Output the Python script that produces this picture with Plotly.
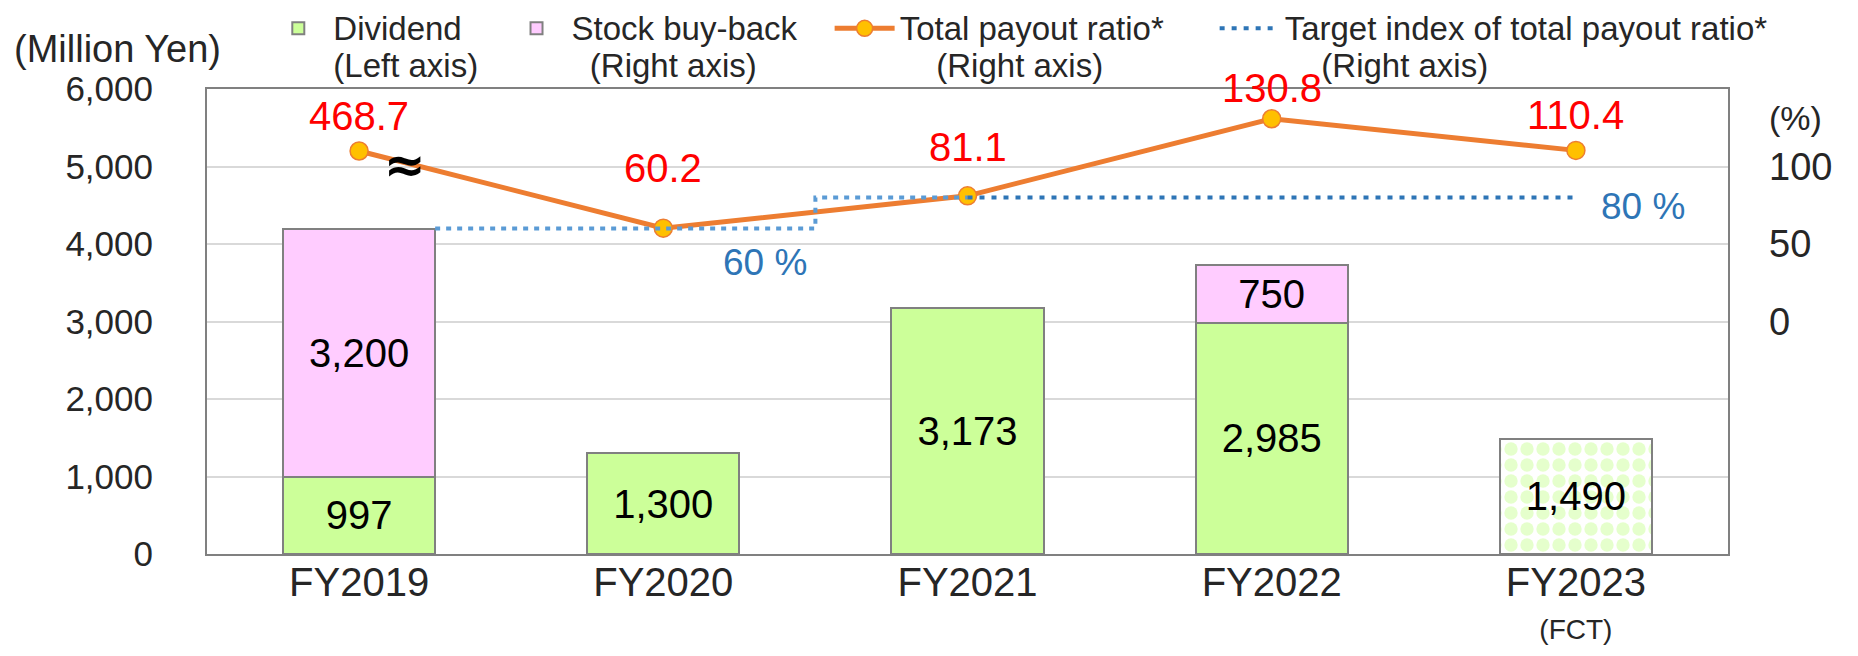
import plotly.graph_objects as go

years = ["FY2019", "FY2020", "FY2021", "FY2022", "FY2023"]
year_notes = ["", "", "", "", "(FCT)"]
dividend = [997, 1300, 3173, 2985, 1490]
buyback = [3200, 0, 0, 750, 0]
payout_ratio = [468.7, 60.2, 81.1, 130.8, 110.4]
# FY2019 sits on a broken axis (the ≈ mark), so it is drawn lower than its value
payout_drawn = [110, 60.2, 81.1, 130.8, 110.4]

# target index of total payout ratio: 60% up to mid FY2020/21, then 80%
target_old_x = [0.25, 1.5, 1.5, 2]
target_old = [60, 60, 80, 80]
target_new_x = [2, 4]
target_new = [80, 80]

xpos = list(range(len(years)))
FONT = "Liberation Sans, Arial, sans-serif"
GREEN = "#CCFF99"
PINK = "#FFCCFF"
EDGE = "#808080"
NB = "\u00a0"


def span(txt, size):
    return f"<span style='font-size:{size}px'>{txt}</span>"


def legend_name(first, second, indent=0, pad=0):
    return span(first + NB * pad, 33) + "<br>" + span(NB * indent + second, 33)


tick_text = []
for y, note in zip(years, year_notes):
    t = span(y, 40)
    if note:
        t += "<br>" + span(note, 28)
    tick_text.append(t)

fig = go.Figure()

fig.add_trace(go.Bar(
    x=xpos, y=dividend, width=0.5,
    name=legend_name("Dividend", "(Left axis)" + NB * 2),
    marker=dict(color=GREEN, line=dict(color=EDGE, width=2),
                pattern=dict(shape=["", "", "", "", "."], fgcolor=GREEN,
                             bgcolor="white", size=16, solidity=0.55)),
    text=[f"{v:,}" for v in dividend], textposition="inside",
    insidetextanchor="middle", textangle=0, constraintext="none",
    textfont=dict(size=40, color="black", family=FONT),
))
fig.add_trace(go.Bar(
    x=xpos, y=buyback, width=0.5,
    name=legend_name("Stock buy-back", "(Right axis)", indent=2, pad=3),
    marker=dict(color=PINK, line=dict(color=EDGE, width=2)),
    text=[f"{v:,}" if v else "" for v in buyback], textposition="inside",
    insidetextanchor="middle", textangle=0, constraintext="none",
    textfont=dict(size=40, color="black", family=FONT),
))
fig.add_trace(go.Scatter(
    x=xpos, y=payout_drawn, yaxis="y2", mode="lines+markers",
    name=legend_name("Total payout ratio*", "(Right axis)", indent=4, pad=5),
    line=dict(color="#ED7D31", width=5),
    marker=dict(size=18, color="#FFC000", line=dict(color="#ED7D31", width=1.5)),
))
fig.add_trace(go.Scatter(
    x=target_old_x, y=target_old, yaxis="y2", mode="lines", showlegend=False,
    line=dict(color="#5B9BD5", width=4, dash="5px,6px"),
))
fig.add_trace(go.Scatter(
    x=target_new_x, y=target_new, yaxis="y2", mode="lines",
    name=legend_name("Target index of total payout ratio*", "(Right axis)", indent=4),
    line=dict(color="#2E75B6", width=4, dash="5px,7px"),
))

# red value labels above the payout markers
label_lift = [35, 60, 49, 31, 35]
for x, yv, v, lift in zip(xpos, payout_drawn, payout_ratio, label_lift):
    fig.add_annotation(x=x, y=yv, yref="y2", text=f"{v}", showarrow=False,
                       yshift=lift, font=dict(size=40, color="#FF0000", family=FONT))

fig.add_annotation(x=0.15, y=101, yref="y2", text="<b>≈</b>", showarrow=False,
                   font=dict(size=50, color="black", family="DejaVu Sans"))
fig.add_annotation(x=1.335, y=38, yref="y2", text="60 %", showarrow=False,
                   font=dict(size=37, color="#2E75B6", family=FONT))
fig.add_annotation(x=4.22, y=74, yref="y2", text="80 %", showarrow=False,
                   font=dict(size=37, color="#2E75B6", family=FONT))
fig.add_annotation(x=-0.128, y=1.086, xref="paper", yref="paper",
                   xanchor="left", yanchor="middle",
                   text="(Million Yen)", showarrow=False,
                   font=dict(size=38, color="#262626", family=FONT))
fig.add_annotation(x=1.0256, y=0.938, xref="paper", yref="paper",
                   xanchor="left", yanchor="middle",
                   text="(%)", showarrow=False,
                   font=dict(size=34, color="#262626", family=FONT))

# the page adds an 8px body margin, so the figure is 8px smaller each way
fig.update_layout(
    width=1850, height=648,
    margin=dict(l=199, r=130, t=81, b=102, autoexpand=False),
    barmode="stack",
    plot_bgcolor="white", paper_bgcolor="white",
    font=dict(family=FONT, color="#262626"),
    showlegend=True,
    legend=dict(orientation="h", xref="container", yref="paper",
                x=0.138, y=1.185, xanchor="left", yanchor="top",
                bgcolor="rgba(0,0,0,0)",
                font=dict(size=29, family=FONT, color="#262626"),
                valign="top", itemwidth=60, traceorder="normal"),
    xaxis=dict(range=[-0.5, 4.5], tickvals=xpos, ticktext=tick_text,
               showline=True, mirror=True, linecolor=EDGE, linewidth=2,
               showgrid=False, zeroline=False, ticks="",
               tickfont=dict(size=33, family=FONT, color="#262626")),
    yaxis=dict(range=[0, 6000], dtick=1000, tickformat=",",
               showline=True, mirror=True, linecolor=EDGE, linewidth=2,
               gridcolor="#D9D9D9", gridwidth=1.5, zeroline=False,
               ticklabelstandoff=45,
               tickfont=dict(size=35, family=FONT, color="#262626")),
    yaxis2=dict(overlaying="y", side="right", range=[-150, 150],
                tickvals=[0, 50, 100], showgrid=False, zeroline=False,
                showline=False, ticklabelstandoff=40,
                tickfont=dict(size=38, family=FONT, color="#262626")),
)

fig.write_html("out.html")
